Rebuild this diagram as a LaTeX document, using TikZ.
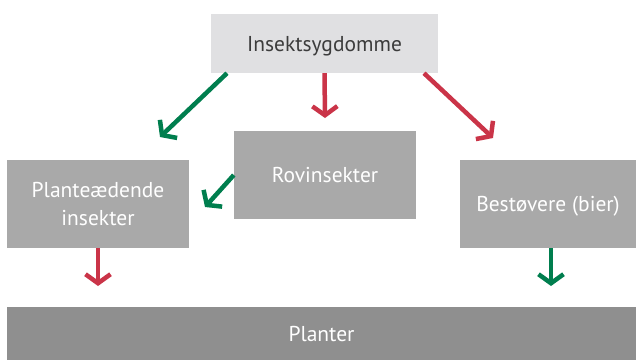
\documentclass[tikz,border=0pt]{standalone}
\usepackage{fontspec}
\setmainfont{PT Sans}
\usetikzlibrary{arrows.meta, positioning}
\definecolor{lysgraa}{RGB}{224,224,226}
\definecolor{mellemgraa}{RGB}{169,169,169}
\definecolor{moerkgraa}{RGB}{143,143,143}
\definecolor{tekstgraa}{RGB}{60,60,60}
\definecolor{groen}{RGB}{0,126,78}
\definecolor{roed}{RGB}{202,52,72}
\tikzset{boks/.style={fill=mellemgraa,text=white,align=center,inner sep=0pt,text depth=0pt,font=\fontsize{21.5}{28}\selectfont},
         topboks/.style={boks,fill=lysgraa,text=tekstgraa},
         bundboks/.style={boks,fill=moerkgraa},
         pil/.style={line width=4.5pt,-{Straight Barb[length=9pt,width=25pt]}},
         positiv/.style={pil,draw=groen},
         negativ/.style={pil,draw=roed}}

\begin{document}
\begin{tikzpicture}[x=1pt,y=-1pt]
        \useasboundingbox (0,0) rectangle (636,360);

        \node[topboks, minimum width=227pt, minimum height=59pt](syg)at(324.5,43.5){Insektsygdomme};
        \node[boks, minimum width=182pt, minimum height=88pt](rov)at(325,175){Rovinsekter};
        \node[boks, minimum width=182pt, minimum height=88pt](plante)at(98,204){Planteædende\\insekter};
        \node[boks, minimum width=176pt, minimum height=88pt](best)at(548,204){Bestøvere (bier)};
        \node[bundboks, minimum width=629pt, minimum height=53pt](planter)at(321.5,333.5){Planter};

        \coordinate (spidsA) at (160,137);
        \coordinate (spidsB) at (325,118);
        \coordinate (spidsC) at (493,138);
        \coordinate (spidsD) at (205,207);
        \coordinate (spidsE) at (98,286);
        \coordinate (spidsF) at (551,286);

        \draw[positiv](syg.south west -| 227,0)--(spidsA);
        \draw[negativ](syg.south)--(spidsB);
        \draw[negativ](syg.south east -| 424,0)--(spidsC);
        \draw[positiv](rov.west)--(spidsD);
        \draw[negativ](plante.south)--(spidsE);
        \draw[positiv](best.south -| spidsF)--(spidsF);
    \end{tikzpicture}
\end{document}
